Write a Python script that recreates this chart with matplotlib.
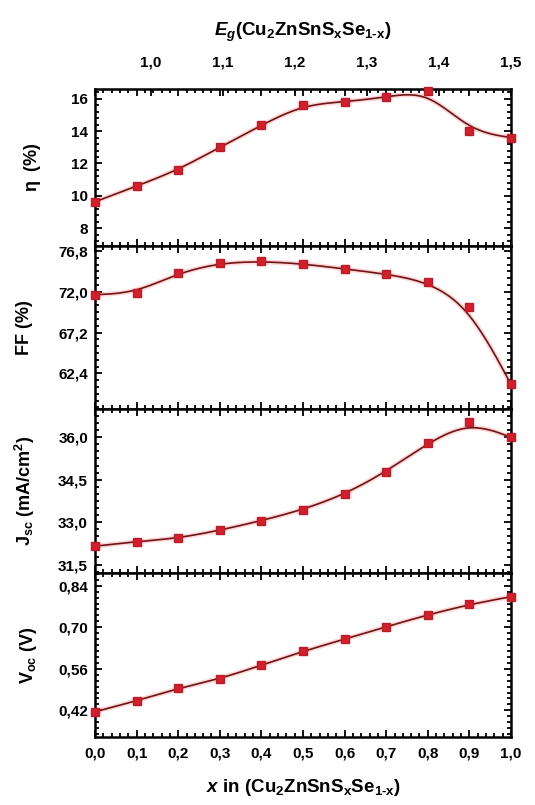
import numpy as np
import matplotlib
matplotlib.use('Agg')
import matplotlib.pyplot as plt
from matplotlib.ticker import MultipleLocator, FuncFormatter, FixedLocator

plt.rcParams['font.family'] = ['Liberation Sans', 'DejaVu Sans']
plt.rcParams['font.weight'] = 'bold'
plt.rcParams['mathtext.fontset'] = 'custom'
plt.rcParams['mathtext.rm'] = 'Liberation Sans:bold'
plt.rcParams['mathtext.it'] = 'Liberation Sans:italic:bold'
plt.rcParams['mathtext.bf'] = 'Liberation Sans:bold'
plt.rcParams['mathtext.default'] = 'regular'

# composition x
x = [0.0, 0.1, 0.2, 0.3, 0.4, 0.5, 0.6, 0.7, 0.8, 0.9, 1.0]
eta = [9.63, 10.6, 11.6, 13.0, 14.37, 15.63, 15.8, 16.1, 16.5, 14.0, 13.6]
ff = [71.65, 71.9, 74.24, 75.4, 75.6, 75.3, 74.7, 74.1, 73.2, 70.2, 61.1]
jsc = [32.15, 32.31, 32.43, 32.71, 33.05, 33.44, 33.98, 34.78, 35.8, 36.55, 36.0]
voc = [0.415, 0.452, 0.494, 0.526, 0.572, 0.619, 0.66, 0.702, 0.742, 0.777, 0.803]

eta_ticks = [8, 10, 12, 14, 16]
ff_ticks = [62.4, 67.2, 72.0, 76.8]
jsc_ticks = [31.5, 33.0, 34.5, 36.0]
voc_ticks = [0.42, 0.56, 0.70, 0.84]
eg_ticks = [1.0, 1.1, 1.2, 1.3, 1.4, 1.5]
x_ticks = [0.0, 0.1, 0.2, 0.3, 0.4, 0.5, 0.6, 0.7, 0.8, 0.9, 1.0]

# band gap at x=0 and x=1 (top axis)
eg0, eg1 = 0.922, 1.5001


def bspline(px, py, n=40):
    # clamped uniform cubic B-spline with the data as control points
    px = np.r_[px[0], px[0], px, px[-1], px[-1]]
    py = np.r_[py[0], py[0], py, py[-1], py[-1]]
    t = np.linspace(0, 1, n)
    b0 = (1 - t) ** 3 / 6
    b1 = (3 * t ** 3 - 6 * t ** 2 + 4) / 6
    b2 = (-3 * t ** 3 + 3 * t ** 2 + 3 * t + 1) / 6
    b3 = t ** 3 / 6
    xs, ys = [], []
    for i in range(len(px) - 3):
        xs.append(b0 * px[i] + b1 * px[i + 1] + b2 * px[i + 2] + b3 * px[i + 3])
        ys.append(b0 * py[i] + b1 * py[i + 1] + b2 * py[i + 2] + b3 * py[i + 3])
    return np.concatenate(xs), np.concatenate(ys)


def comma(dec):
    return FuncFormatter(lambda v, p: ('%.*f' % (dec, v)).replace('.', ','))


fig = plt.figure(figsize=(5.35, 8.05), dpi=100)
L, R = 95 / 535, 511 / 535
edges = [89, 246, 409, 573, 737]

panels = [
    (eta, eta_ticks, (6.9, 16.6), 0.4, 0, r'$\eta$  (%)', -0.125),
    (ff, ff_ticks, (58.2, 77.4), 0.8, 1, 'FF (%)', -0.15),
    (jsc, jsc_ticks, (31.2, 37.0), 0.25, 1, r'J$_{sc}$ (mA/cm$^2$)', -0.14),
    (voc, voc_ticks, (0.33, 0.883), 0.02, 2, r'V$_{oc}$ (V)', -0.135),
]

axes = []
for k, (yv, yt, yl, ymin, dec, lab, lx) in enumerate(panels):
    top = 1 - edges[k] / 805
    bot = 1 - edges[k + 1] / 805
    ax = fig.add_axes([L, bot, R - L, top - bot])
    sx, sy = bspline(np.array(x), np.array(yv))
    ax.plot(sx, sy, color='#ff6060', lw=3.5, alpha=0.25, zorder=2)
    ax.plot(sx, sy, color='#6e1414', lw=1.2, zorder=3)
    ax.plot(x, yv, 's', color='#d11f2c', ms=5.8, mec='#c01a26', zorder=4, clip_on=False)
    ax.set_xlim(0, 1)
    ax.set_ylim(*yl)
    ax.yaxis.set_major_locator(FixedLocator(yt))
    ax.yaxis.set_minor_locator(MultipleLocator(ymin))
    ax.yaxis.set_major_formatter(comma(dec))
    ax.xaxis.set_major_locator(FixedLocator(x_ticks))
    ax.xaxis.set_minor_locator(MultipleLocator(0.02))
    ax.tick_params(which='both', direction='in', top=True, right=True, width=1.3)
    ax.tick_params(which='major', length=5, labelsize=11, pad=5)
    ax.tick_params(which='minor', length=3)
    for s in ax.spines.values():
        s.set_linewidth(1.8)
    ax.set_ylabel(lab, fontsize=13, fontweight='bold')
    ax.yaxis.set_label_coords(lx, 0.5)
    if k < 3:
        ax.tick_params(labelbottom=False)
    axes.append(ax)

ax = axes[-1]
ax.xaxis.set_major_formatter(comma(1))
ax.tick_params(axis='x', pad=7)
ax.set_xlabel(r'$\mathit{x}$ in (Cu$_2$ZnSnS$_x$Se$_{1\text{-}x}$)', fontsize=13.5,
              fontweight='bold', labelpad=12)

ax0 = axes[0]
sec = ax0.secondary_xaxis('top', functions=(lambda v: eg0 + (eg1 - eg0) * v,
                                            lambda e: (e - eg0) / (eg1 - eg0)))
sec.xaxis.set_major_locator(FixedLocator(eg_ticks))
sec.xaxis.set_major_formatter(comma(1))
sec.tick_params(which='both', direction='in', width=1.3, labelsize=11, pad=14)
sec.tick_params(which='major', length=5)
sec.tick_params(which='minor', length=0)
sec.set_xlabel(r'$\mathit{E}_{\mathit{g}}$(Cu$_2$ZnSnS$_x$Se$_{1\text{-}x}$)', fontsize=13.5,
               fontweight='bold', labelpad=14)

fig.savefig('out.png', dpi=100)
